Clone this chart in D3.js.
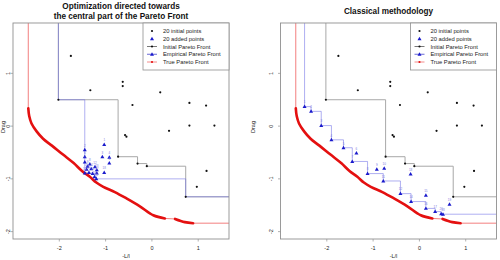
<!DOCTYPE html>
<html>
<head>
<meta charset="utf-8">
<script src="https://cdn.jsdelivr.net/npm/d3@7"></script>
<style>
  body { margin: 0; background: #fff; }
  svg { font-family: "Liberation Sans", Arial, sans-serif; }
</style>
</head>
<body>
<script>
// 20 initial points, shared by both panels [-L/l, Drag]
const initialPts = [
  [-1.75, 1.33], [-1.33, 0.68], [-0.63, 0.84], [-0.63, 0.76], [0.18, 0.64],
  [-0.42, 0.40], [0.81, 0.44], [1.17, 0.39], [-2.02, 0.50], [0.81, 0.01],
  [1.35, 0.01], [0.37, -0.09], [-0.58, -0.17], [-0.55, -0.20], [-0.73, -0.58],
  [-0.31, -0.71], [-0.11, -0.76], [1.18, -0.85], [0.97, -1.15], [0.73, -1.34]
];
// 20 added points, left panel (central part)
const addedCentral = [
  [-1.03, -0.35], [-1.45, -0.45], [-1.07, -0.58], [-0.92, -0.59], [-0.92, -0.70],
  [-1.45, -0.58], [-1.45, -0.68], [-1.34, -0.72], [-1.39, -0.76], [-1.41, -0.82],
  [-1.31, -0.81], [-1.23, -0.77], [-1.19, -0.83], [-1.45, -0.89], [-1.36, -0.88],
  [-1.28, -0.90], [-1.19, -0.89], [-1.03, -0.88], [-1.24, -0.96], [-1.20, -1.00]
];
// 20 added points, right panel (classical)
const addedClassical = [
  [-2.48, 0.37], [-2.34, 0.28], [-2.12, 0.01], [-1.90, -0.26], [-1.64, -0.41],
  [-1.36, -0.51], [-1.45, -0.67], [-1.12, -0.90], [-0.92, -0.82], [-0.76, -0.80],
  [-0.78, -1.04], [-0.41, -1.28], [-0.19, -0.91], [-0.18, -1.43], [0.14, -1.31],
  [0.14, -1.56], [0.34, -1.62], [0.51, -1.67], [0.65, -1.48], [0.47, -1.66]
];
// true Pareto front (two pieces, gap between)
const trueFrontA = [
  [-2.67, 0.34], [-2.65, 0.19], [-2.60, 0.05], [-2.49, -0.10], [-2.35, -0.24],
  [-2.16, -0.37], [-1.92, -0.54], [-1.69, -0.70], [-1.51, -0.85], [-1.34, -0.96],
  [-1.20, -1.07], [-1.05, -1.15], [-0.80, -1.25], [-0.55, -1.37], [-0.26, -1.52],
  [0.03, -1.69], [0.28, -1.75]
];
const trueFrontB = [[0.50, -1.76], [0.71, -1.82], [0.89, -1.84]];
const xTicks = [-2, -1, 0, 1];
const yTicks = [-2, -1, 0, 1];
const legendLabels = ["20 initial points", "20 added points", "Initial Pareto Front",
                      "Empirical Pareto Front", "True Pareto Front"];

const W = 500, H = 260;
const plotTop = 23, plotBottom = 239;
const xDom = [-3.0, 1.665], yDom = [-2.14, 1.955];

const svg = d3.select("body").append("svg").attr("width", W).attr("height", H);

function pareto(pts) {
  const s = pts.slice().sort((a, b) => a[0] - b[0] || a[1] - b[1]);
  const out = [];
  let best = Infinity;
  s.forEach(p => { if (p[1] < best) { out.push(p); best = p[1]; } });
  return out;
}

function panel(left, right, added, title, opts) {
  const x = d3.scaleLinear().domain(xDom).range([left, right]);
  const y = d3.scaleLinear().domain(yDom).range([plotBottom, plotTop]);
  const g = svg.append("g");
  const clipId = "clip" + Math.round(left);
  svg.append("clipPath").attr("id", clipId).append("rect")
    .attr("x", left).attr("y", plotTop).attr("width", right - left).attr("height", plotBottom - plotTop);
  const plot = g.append("g").attr("clip-path", `url(#${clipId})`);

  // true front: thin line + thick pieces
  const thin = [[trueFrontA[0][0], yDom[1] + 1], ...trueFrontA, ...trueFrontB,
                [xDom[1] + 1, trueFrontB[trueFrontB.length - 1][1]]];
  const lin = d3.line().x(d => x(d[0])).y(d => y(d[1]));
  plot.append("path").attr("d", lin(thin)).attr("fill", "none")
    .attr("stroke", "#f06060").attr("stroke-width", 0.8);
  const smooth = d3.line().x(d => x(d[0])).y(d => y(d[1])).curve(d3.curveCatmullRom);
  [trueFrontA, trueFrontB].forEach(seg => {
    plot.append("path").attr("d", smooth(seg)).attr("fill", "none")
      .attr("stroke", "#e41010").attr("stroke-width", 2.6).attr("stroke-linecap", "round");
  });

  // step fronts
  const step = d3.line().x(d => x(d[0])).y(d => y(d[1])).curve(d3.curveStepAfter);
  const frontPath = f => [[f[0][0], yDom[1] + 1], ...f, [xDom[1] + 1, f[f.length - 1][1]]];
  const initFront = pareto(initialPts);
  const empFront = pareto(initialPts.concat(added));
  plot.append("path").attr("d", step(frontPath(initFront))).attr("fill", "none")
    .attr("stroke", "#a8a8a8").attr("stroke-width", 1);
  plot.append("path").attr("d", step(frontPath(empFront))).attr("fill", "none")
    .attr("stroke", "rgba(110,110,230,0.55)").attr("stroke-width", 1);

  // initial points
  plot.selectAll(".ip").data(initialPts).enter().append("circle")
    .attr("cx", d => x(d[0])).attr("cy", d => y(d[1])).attr("r", 1.1).attr("fill", "#111");

  // added points with index labels
  const tri = d3.symbol().type(d3.symbolTriangle).size(7);
  plot.selectAll(".ap").data(added).enter().append("path")
    .attr("d", tri).attr("transform", d => `translate(${x(d[0])},${y(d[1]) + 0.3})`)
    .attr("fill", "#1a1acc");
  plot.selectAll(".al").data(added).enter().append("text")
    .attr("x", d => x(d[0])).attr("y", d => y(d[1]) - 3.2)
    .attr("text-anchor", "middle").attr("font-size", 3).attr("fill", "#7777dd")
    .text((d, i) => i + 1);

  // box
  g.append("rect").attr("x", left).attr("y", plotTop).attr("width", right - left)
    .attr("height", plotBottom - plotTop).attr("fill", "none").attr("stroke", "#909090").attr("stroke-width", 0.9);

  // axes
  const ax = g.append("g");
  xTicks.forEach(t => {
    ax.append("line").attr("x1", x(t)).attr("x2", x(t)).attr("y1", plotBottom).attr("y2", plotBottom + 2.5)
      .attr("stroke", "#909090").attr("stroke-width", 0.7);
    ax.append("text").attr("x", x(t)).attr("y", 250).attr("text-anchor", "middle")
      .attr("font-size", 5.5).attr("fill", "#222").text(t);
  });
  yTicks.forEach(t => {
    ax.append("line").attr("x1", left).attr("x2", left - 2.5).attr("y1", y(t)).attr("y2", y(t))
      .attr("stroke", "#909090").attr("stroke-width", 0.7);
    ax.append("text").attr("transform", `translate(${opts.yTickX},${y(t)}) rotate(-90)`)
      .attr("text-anchor", "middle").attr("font-size", 5.5).attr("fill", "#222").text(t);
  });
  ax.append("text").attr("x", (left + right) / 2 + 5).attr("y", 257.5).attr("text-anchor", "middle")
    .attr("font-size", 5.5).attr("fill", "#222").text("-L/l");
  ax.append("text").attr("transform", `translate(${opts.yLabX},${opts.yLabY}) rotate(-90)`)
    .attr("text-anchor", "middle").attr("font-size", 5.5).attr("fill", "#222").text("Drag");

  // title
  title.forEach((t, i) => {
    g.append("text").attr("x", (left + right) / 2).attr("y", opts.titleY + i * 10.3)
      .attr("text-anchor", "middle").attr("font-weight", "bold").attr("font-size", 8.2)
      .attr("fill", "#111").text(t);
  });

  // legend
  const lx = right - 86, lg = g.append("g");
  lg.append("rect").attr("x", lx).attr("y", plotTop).attr("width", right - lx).attr("height", 47)
    .attr("fill", "#fff").attr("stroke", "#909090").attr("stroke-width", 0.8);
  legendLabels.forEach((lab, i) => {
    const ly = 31 + i * 7.75, sx = lx + 9;
    if (i >= 2) {
      lg.append("line").attr("x1", sx - 5).attr("x2", sx + 5).attr("y1", ly).attr("y2", ly)
        .attr("stroke", ["#555", "#4444cc", "#f07070"][i - 2]).attr("stroke-width", 0.8);
    }
    if (i === 0 || i === 2 || i === 4) {
      lg.append("circle").attr("cx", sx).attr("cy", ly).attr("r", 1.1)
        .attr("fill", i === 4 ? "#e41010" : "#111");
    } else {
      lg.append("path").attr("d", tri).attr("transform", `translate(${sx},${ly + 0.3})`)
        .attr("fill", "#1a1acc");
    }
    lg.append("text").attr("x", lx + 20).attr("y", ly + 2).attr("font-size", 5.8)
      .attr("fill", "#222").text(lab);
  });
}

panel(13, 229, addedCentral, ["Optimization directed towards", "the central part of the Pareto Front"],
  { titleY: 8.5, yTickX: 9.5, yLabX: 4.6, yLabY: 127 });
panel(280.5, 496.5, addedClassical, ["Classical methodology"],
  { titleY: 14, yTickX: 272.5, yLabX: 255, yLabY: 127 });
</script>
</body>
</html>
